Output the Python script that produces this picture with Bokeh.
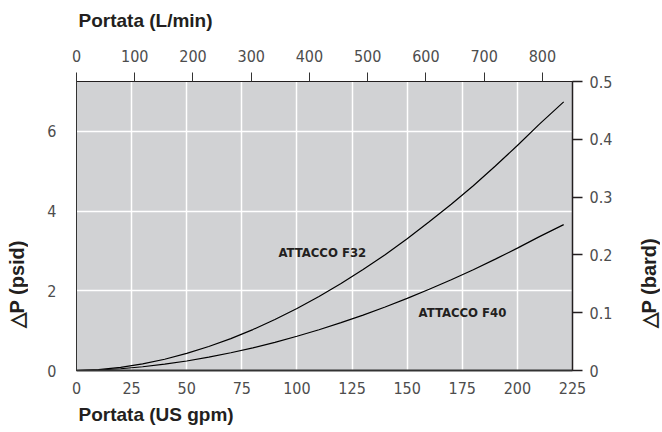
import math
from bokeh.plotting import figure
from bokeh.layouts import row, column
from bokeh.models import (Range1d, LinearAxis, FixedTicker, Label, Title)
from bokeh.embed import file_html
from bokeh.resources import INLINE

# ---- data ----
gpm = [0, 10, 20, 30, 40, 50, 60, 70, 80, 90, 100, 110, 120, 130, 140,
       150, 160, 170, 180, 190, 200, 210, 221]
dp_f32 = [0, 0.022, 0.078, 0.166, 0.283, 0.428, 0.602, 0.801, 1.027, 1.278,
          1.556, 1.858, 2.184, 2.534, 2.907, 3.307, 3.732, 4.171, 4.637,
          5.131, 5.645, 6.181, 6.74]
dp_f40 = [0, 0.012, 0.044, 0.094, 0.159, 0.239, 0.335, 0.445, 0.569, 0.706,
          0.859, 1.023, 1.200, 1.390, 1.593, 1.809, 2.039, 2.276, 2.528,
          2.795, 3.071, 3.360, 3.66]

gpm_ticks = [0, 25, 50, 75, 100, 125, 150, 175, 200, 225]
grid_ticks = [25, 50, 75, 100, 125, 150, 175, 200]
lmin_ticks = [0, 100, 200, 300, 400, 500, 600, 700, 800]
psid_ticks = [0, 2, 4, 6]
bar_ticks = [0, 0.1, 0.2, 0.3, 0.4, 0.5]
bar_labels = ["0", "0.1", "0.2", "0.3", "0.4", "0.5"]

GPM_MAX = 225
LPM_PER_GPM = 3.78541
PSI_PER_BAR = 14.5038
BAR_MAX = 0.5

x_title_top = "Portata (L/min)"
x_title_bottom = "Portata (US gpm)"
y_title_left = "\u25b3P (psid)"
y_title_right = "\u25b3P (bard)"
series_names = ["ATTACCO F32", "ATTACCO F40"]

TICK_FONT = "DejaVu Sans Condensed, Liberation Sans"
TITLE_FONT = "Liberation Sans"
tick_color = "#4d4d4d"
title_color = "#231f20"

TOTAL_W, TOTAL_H = 660, 430
TOP_H = 38
H = TOTAL_H - TOP_H
LEFT_W, RIGHT_W = 28, 22
MAIN_W = TOTAL_W - LEFT_W - RIGHT_W

p = figure(width=MAIN_W, height=H, output_backend="svg", toolbar_location=None,
           x_range=Range1d(0, GPM_MAX), y_range=Range1d(0, BAR_MAX * PSI_PER_BAR),
           min_border_left=76 - LEFT_W, min_border_right=MAIN_W - (76 - LEFT_W) - 496,
           min_border_top=81 - TOP_H, min_border_bottom=H - (81 - TOP_H) - 291,
           x_axis_location=None, y_axis_location=None)
p.background_fill_color = "#d1d2d4"
p.border_fill_color = "white"
p.outline_line_color = "#231f20"
p.outline_line_width = 1

p.extra_x_ranges = {"lmin": Range1d(0, GPM_MAX * LPM_PER_GPM)}
p.extra_y_ranges = {"bar": Range1d(0, BAR_MAX)}

def style(ax, size="16px"):
    ax.major_label_text_font = TICK_FONT
    ax.major_label_text_font_size = size
    ax.major_label_text_color = tick_color
    ax.minor_tick_line_color = None

# bottom axis
xb = LinearAxis(ticker=FixedTicker(ticks=gpm_ticks))
style(xb)
xb.major_tick_line_color = None
xb.axis_line_color = "#333333"
xb.axis_line_width = 2
xb.major_label_standoff = 5
p.add_layout(xb, "below")

# top axis
xt = LinearAxis(x_range_name="lmin", ticker=FixedTicker(ticks=lmin_ticks))
style(xt)
xt.major_tick_out = 9
xt.major_tick_in = 0
xt.major_tick_line_color = "#333333"
xt.axis_line_color = "#231f20"
xt.major_label_standoff = 11
p.add_layout(xt, "above")

# left axis
yl = LinearAxis(ticker=FixedTicker(ticks=psid_ticks))
style(yl)
yl.major_tick_line_color = None
yl.axis_line_color = "#333333"
yl.major_label_standoff = 14
p.add_layout(yl, "left")

# right axis
yr = LinearAxis(y_range_name="bar", ticker=FixedTicker(ticks=bar_ticks),
                major_label_overrides=dict(zip(bar_ticks, bar_labels)))
style(yr)
yr.major_tick_out = 10
yr.major_tick_in = 0
yr.major_tick_line_color = "#231f20"
yr.major_tick_line_width = 1.5
yr.axis_line_color = "#231f20"
yr.axis_line_width = 1.5
yr.major_label_standoff = 7
p.add_layout(yr, "right")

p.add_layout(Title(text=x_title_bottom, align="left", offset=2, standoff=11,
                   text_font=TITLE_FONT, text_font_size="19px",
                   text_font_style="bold", text_color=title_color), "below")

p.xgrid.ticker = FixedTicker(ticks=grid_ticks)
p.ygrid.ticker = FixedTicker(ticks=psid_ticks[1:])
for g in (p.xgrid, p.ygrid):
    g.grid_line_color = "white"
    g.grid_line_width = 1.5

p.line(gpm, dp_f32, line_color="black", line_width=1.2)
p.line(gpm, dp_f40, line_color="black", line_width=1.2)

for name, x, y in ((series_names[0], 111.5, 2.97), (series_names[1], 175.1, 1.46)):
    p.add_layout(Label(x=x, y=y, text=name, text_font=TICK_FONT,
                       text_font_size="13px", text_font_style="bold",
                       text_color=title_color, text_align="center",
                       text_baseline="middle"))

# plain strips that carry the outer titles
def strip(width, height, text, cx, cy, angle, size):
    s = figure(width=width, height=height, output_backend="svg",
               toolbar_location=None, x_range=Range1d(0, width),
               y_range=Range1d(0, height), min_border=0,
               x_axis_location=None, y_axis_location=None)
    s.outline_line_color = None
    s.background_fill_color = "white"
    s.border_fill_color = "white"
    s.xgrid.visible = False
    s.ygrid.visible = False
    s.add_layout(Label(x=cx, y=cy, text=text, angle=angle,
                       text_font=TITLE_FONT, text_font_size=size,
                       text_font_style="bold", text_color=title_color,
                       text_align="left", text_baseline="middle"))
    return s

top_strip = strip(TOTAL_W, TOP_H, x_title_top, 78, TOP_H - 20, 0, "19px")
left_strip = strip(LEFT_W, H, y_title_left, 16, TOTAL_H - 373, math.pi / 2, "20px")
right_strip = strip(RIGHT_W, H, y_title_right, 10, TOTAL_H - 373, math.pi / 2, "20px")

layout = column(top_strip, row(left_strip, p, right_strip))
open("out.html", "w").write(file_html(layout, INLINE))
